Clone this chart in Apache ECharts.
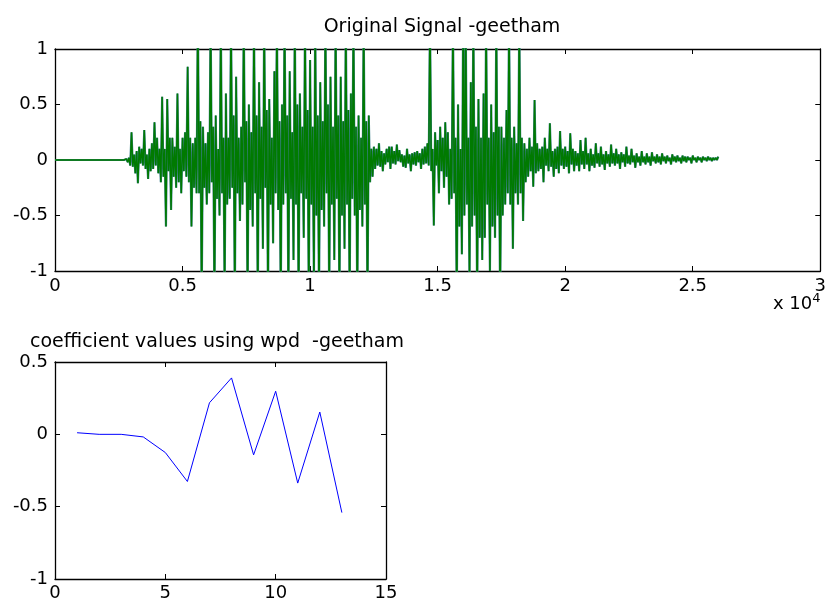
<!DOCTYPE html>
<html>
<head>
<meta charset="utf-8">
<script src="https://cdn.jsdelivr.net/npm/echarts@6/dist/echarts.min.js"></script>
<style>
  html, body { margin: 0; padding: 0; background: #fff; }
  #chart { width: 829px; height: 604px; }
</style>
</head>
<body>
<div id="chart"></div>
<script>
// speech signal, one value every 50 samples (values past +-1 get clipped by the axis)
const sampleStep = 50
const signal = [
  0, 0, 0, 0, 0, 0, 0, 0, 0, 0, 0, 0, 0, 0, 0, 0, 0, 0, 0, 0, 0, 0, 0, 0, 0, 0, 0, 0,
  0, 0, 0, 0, 0, 0, 0, 0, 0, 0, 0, 0, 0, 0, 0, 0, 0, 0, 0, 0, 0, 0, 0, 0, 0, 0, 0, 0,
  0.01, -0.02, 0.02, -0.05, 0.25, -0.06, 0.05, -0.12, 0.08, -0.21, 0.12, -0.03, 0.1, -0.05, 0.27, -0.08, 0.05, -0.17, 0.1, -0.1,
  0.15, -0.08, 0.34, -0.05, 0.2, -0.12, 0.1, -0.2, 0.57, -0.15, 0.1, -0.6, 0.55, -0.1, 0.2, -0.45, 0.2, -0.15, 0.12, -0.25,
  0.6, -0.2, 0.1, -0.3, 0.2, -0.1, 0.25, -0.15, 0.84, -0.2, 0.2, -0.6, 0.15, -0.25, 0.2, -0.3, 1.4, -0.3, 0.35, -1.3,
  0.3, -0.25, 0.15, -0.4, 0.25, -0.3, 1.3, -0.2, 0.3, -1.3, 0.4, -0.35, 0.1, -0.5, 1.3, -0.3, 0.2, -1.2, 0.6, -0.4,
  0.2, -0.35, 1.3, -0.25, 0.4, -1.3, 0.75, -0.3, 0.2, -0.55, 0.3, -0.4, 1.3, -0.2, 0.35, -1.3, 0.5, -0.45, 0.25, -0.6,
  1.3, -0.3, 0.4, -1.3, 0.7, -0.35, 0.3, -0.8, 1.3, -0.25, 0.45, -1.3, 0.55, -0.4, 0.2, -0.75, 0.8, -0.3, 1.3, -0.45,
  0.35, -1.3, 0.5, -0.4, 1.3, -0.3, 0.4, -1.3, 0.8, -0.35, 0.25, -0.9, 1.3, -0.4, 0.5, -1.3, 0.6, -0.3, 0.3, -0.7,
  1.3, -0.35, 0.45, -1.3, 0.9, -0.4, 0.3, -1.1, 1.3, -0.5, 0.4, -1.3, 0.7, -0.45, 0.35, -0.6, 1.3, -0.3, 0.5, -1.3,
  0.75, -0.4, 0.3, -0.9, 1.3, -0.35, 0.4, -1.3, 0.75, -0.5, 0.35, -0.8, 1.3, -0.4, 0.45, -1.3, 0.6, -0.35, 1.3, -0.5,
  0.3, -1.3, 0.4, -0.45, 0.2, -0.6, 1.3, -0.4, 0.35, -1.3, 0.4, -0.2, 0.1, -0.15, 0.12, -0.08, 0.1, -0.05, 0.15, -0.06,
  0.08, -0.1, 0.06, -0.04, 0.1, -0.02, 0.12, -0.08, 0.12, -0.03, 0.08, -0.04, 0.14, -0.01, 0.09, -0.02, 0.05, -0.06, 0.04, -0.07,
  0.1, -0.03, 0.05, -0.1, 0.06, -0.04, 0.07, -0.05, 0.08, -0.02, 0.06, -0.08, 0.1, -0.04, 0.12, -0.03, 0.15, -0.05, 1.3, -0.1,
  0.1, -0.59, 0.25, -0.05, 0.18, -0.3, 0.3, -0.1, 0.2, -0.25, 0.34, -0.15, 0.25, -0.4, 0.1, -0.35, 1.3, -0.3, 0.2, -1.3,
  0.5, -0.6, 0.1, -0.85, 1.3, -0.5, 1.3, -0.4, 0.2, -1.1, 0.7, -0.6, 1.3, -0.5, 0.3, -1.3, 0.55, -0.7, 0.2, -0.9,
  0.6, -0.7, 1.3, -0.4, 0.2, -1.0, 0.5, -0.6, 0.25, -0.7, 1.3, -0.5, 0.3, -1.3, 0.3, -0.5, 0.2, -0.4, 0.45, -0.3,
  1.3, -0.4, 0.2, -0.8, 0.3, -0.3, 0.15, -0.4, 1.3, -0.3, 0.2, -0.55, 0.15, -0.2, 0.1, -0.15, 0.2, -0.1, 0.12, -0.24,
  0.54, -0.12, 0.15, -0.1, 0.1, -0.08, 0.12, -0.2, 0.2, -0.05, 0.1, -0.1, 0.33, -0.06, 0.08, -0.15, 0.1, -0.08, 0.12, -0.12,
  0.26, -0.05, 0.1, -0.08, 0.12, -0.06, 0.08, -0.12, 0.24, -0.04, 0.1, -0.1, 0.08, -0.05, 0.06, -0.1, 0.18, -0.04, 0.08, -0.08,
  0.2, -0.04, 0.06, -0.1, 0.1, -0.05, 0.05, -0.07, 0.15, -0.03, 0.06, -0.06, 0.12, -0.04, 0.05, -0.09, 0.08, -0.03, 0.05, -0.06,
  0.14, -0.03, 0.06, -0.05, 0.1, -0.03, 0.05, -0.08, 0.07, -0.02, 0.05, -0.06, 0.12, -0.03, 0.04, -0.04, 0.1, -0.02, 0.04, -0.07,
  0.06, -0.02, 0.03, -0.05, 0.08, -0.02, 0.03, -0.04, 0.06, -0.02, 0.03, -0.05, 0.07, -0.01, 0.03, -0.03, 0.05, -0.02, 0.03, -0.04,
  0.06, -0.01, 0.03, -0.03, 0.04, -0.01, 0.02, -0.04, 0.05, -0.01, 0.03, -0.02, 0.04, -0.01, 0.02, -0.03, 0.04, -0.01, 0.03, -0.02,
  0.03, 0.0, 0.02, -0.03, 0.04, 0.0, 0.02, -0.02, 0.03, 0.0, 0.02, -0.02, 0.03, 0.0, 0.02, -0.01, 0.03, 0.0, 0.02, -0.01,
  0.02, 0.0, 0.02, 0.0, 0.03
]

// wpd coefficients
const coefIndex = [1, 2, 3, 4, 5, 6, 7, 8, 9, 10, 11, 12, 13]
const coefValues = [0.011, 0.0, 0.0, -0.018, -0.126, -0.326, 0.218, 0.39, -0.142, 0.298, -0.337, 0.154, -0.541]

const chart = echarts.init(document.getElementById('chart'))

const font = 'DejaVu Sans'
const axisText = { color: '#000', fontSize: 18, fontFamily: font }

const boxAxis = (gridIndex, position, extra) => Object.assign({
  gridIndex: gridIndex,
  position: position,
  axisLine: { show: true, onZero: false, lineStyle: { color: '#000', width: 1.3 } },
  axisTick: { show: true, inside: true, length: 5, lineStyle: { color: '#000' } },
  axisLabel: { show: false },
  splitLine: { show: false }
}, extra)

const signalData = signal.map((v, i) => [i * sampleStep, v])

const options = {
  animation: false,
  backgroundColor: '#fff',
  title: [
    {
      text: 'Original Signal -geetham',
      left: 437, top: 13, textAlign: 'center',
      textStyle: { color: '#000', fontSize: 19, fontWeight: 'normal', fontFamily: font }
    },
    {
      text: 'coefficient values using wpd  -geetham',
      left: 212, top: 328, textAlign: 'center',
      textStyle: { color: '#000', fontSize: 19, fontWeight: 'normal', fontFamily: font }
    },
    {
      text: 'x 10{sup|4}',
      left: 768, top: 287,
      textStyle: {
        color: '#000', fontSize: 18, fontWeight: 'normal', fontFamily: font,
        rich: { sup: { fontSize: 13, fontFamily: font, verticalAlign: 'top', padding: [0, 0, 12, 0] } }
      }
    }
  ],
  grid: [
    { left: 55, top: 49, width: 766, height: 222 },
    { left: 55, top: 362, width: 331, height: 217 }
  ],
  xAxis: [
    boxAxis(0, 'bottom', {
      type: 'value', min: 0, max: 30000, interval: 5000,
      axisLabel: Object.assign({ show: true, margin: 6, formatter: v => String(v / 10000) }, axisText)
    }),
    boxAxis(0, 'top', { type: 'value', min: 0, max: 30000, interval: 5000 }),
    boxAxis(1, 'bottom', {
      type: 'value', min: 0, max: 15, interval: 5,
      axisLabel: Object.assign({ show: true, margin: 5 }, axisText)
    }),
    boxAxis(1, 'top', { type: 'value', min: 0, max: 15, interval: 5 })
  ],
  yAxis: [
    boxAxis(0, 'left', {
      type: 'value', min: -1, max: 1, interval: 0.5,
      axisLabel: Object.assign({ show: true, margin: 7 }, axisText)
    }),
    boxAxis(0, 'right', { type: 'value', min: -1, max: 1, interval: 0.5 }),
    boxAxis(1, 'left', {
      type: 'value', min: -1, max: 0.5, interval: 0.5,
      axisLabel: Object.assign({ show: true, margin: 7 }, axisText)
    }),
    boxAxis(1, 'right', { type: 'value', min: -1, max: 0.5, interval: 0.5 })
  ],
  series: [
    {
      type: 'line', xAxisIndex: 0, yAxisIndex: 0,
      data: signalData, showSymbol: false, clip: true,
      lineStyle: { color: '#3c7f8c', width: 2.2 }
    },
    {
      type: 'line', xAxisIndex: 0, yAxisIndex: 0,
      data: signalData, showSymbol: false, clip: true,
      lineStyle: { color: '#007a00', width: 1.4 }
    },
    {
      type: 'line', xAxisIndex: 2, yAxisIndex: 2,
      data: coefIndex.map((x, i) => [x, coefValues[i]]),
      showSymbol: false,
      lineStyle: { color: '#0000ff', width: 1 }
    }
  ]
}

chart.setOption(options)
</script>
</body>
</html>
